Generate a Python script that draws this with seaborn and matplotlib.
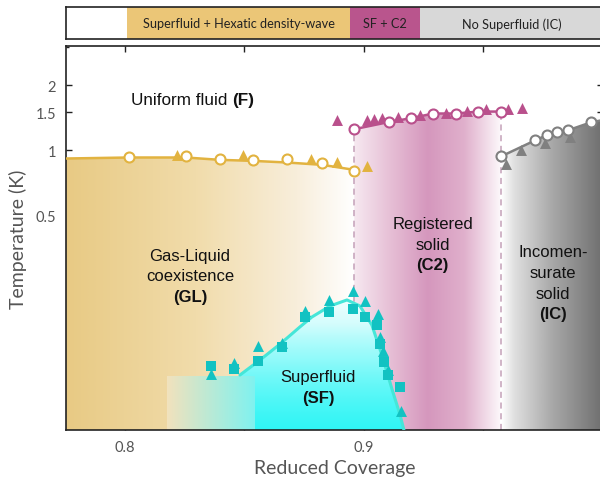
import numpy as np
import matplotlib
matplotlib.use("Agg")
import matplotlib.pyplot as plt
import seaborn as sns
from matplotlib.patches import Polygon
from matplotlib.colors import LinearSegmentedColormap
from matplotlib.ticker import FixedLocator, FixedFormatter, NullFormatter

# --- values ---
# gas-liquid boundary (yellow)
gl_circ_x = [0.8018, 0.8255, 0.8397, 0.8537, 0.8677, 0.8826, 0.8958]
gl_circ_T = [0.925, 0.935, 0.908, 0.902, 0.908, 0.868, 0.802]
gl_tri_x = [0.8216, 0.8495, 0.8777, 0.8888, 0.9014]
gl_tri_T = [0.948, 0.948, 0.915, 0.883, 0.846]
gl_line_x = [0.7752, 0.8018, 0.8255, 0.8397, 0.8537, 0.8677, 0.8826, 0.8958]
gl_line_T = [0.915, 0.925, 0.925, 0.902, 0.892, 0.877, 0.855, 0.811]

# registered solid C2 melting (purple)
c2_circ_x = [0.8959, 0.9106, 0.9195, 0.9290, 0.9385, 0.9478, 0.9573]
c2_circ_T = [1.251, 1.352, 1.406, 1.479, 1.479, 1.51, 1.51]
c2_tri_x = [0.8887, 0.9013, 0.9042, 0.9075, 0.9142, 0.9234, 0.9343, 0.9431, 0.9510, 0.9603, 0.9661]
c2_tri_T = [1.387, 1.377, 1.392, 1.406, 1.421, 1.452, 1.483, 1.515, 1.548, 1.548, 1.565]

# incommensurate solid melting (gray)
ic_circ_x = [0.9573, 0.9715, 0.9764, 0.9808, 0.9855, 0.9948]
ic_circ_T = [0.935, 1.109, 1.173, 1.211, 1.238, 1.344]
ic_tri_x = [0.9594, 0.9656, 0.9757, 0.9862]
ic_tri_T = [0.866, 1.0, 1.077, 1.149]
ic_line_x = [0.9573, 0.9715, 0.9764, 0.9808, 0.9855, 0.9948, 1.0]
ic_line_T = [0.935, 1.109, 1.173, 1.211, 1.238, 1.344, 1.38]

# superfluid dome (cyan)
sf_sq_x = [0.8359, 0.8457, 0.8556, 0.8656, 0.8755, 0.8855, 0.8954, 0.9004, 0.9053, 0.9067, 0.9084, 0.9102, 0.9152]
sf_sq_T = [0.1003, 0.0969, 0.1055, 0.122, 0.168, 0.1784, 0.1828, 0.1686, 0.1548, 0.1264, 0.1047, 0.0913, 0.0797]
sf_tri_x = [0.8359, 0.8457, 0.8556, 0.8656, 0.8755, 0.8855, 0.8954, 0.9004, 0.9058, 0.9067, 0.9081, 0.9102, 0.9154]
sf_tri_T = [0.0921, 0.1027, 0.1244, 0.1277, 0.1794, 0.2023, 0.2233, 0.199, 0.1747, 0.1367, 0.1177, 0.0958, 0.0621]
sf_line_x = [0.8481, 0.8565, 0.8649, 0.8732, 0.8782, 0.8858, 0.8929, 0.8983, 0.9033, 0.9075, 0.9117, 0.9151, 0.9167]
sf_line_T = [0.0908, 0.1066, 0.1264, 0.1517, 0.1686, 0.1897, 0.2023, 0.1897, 0.1548, 0.1124, 0.0782, 0.0593, 0.0505]
sf_rect_x = [0.8175, 0.8544]
sf_rect_T = 0.0908

# top bar
bar_edges = [0.7752, 0.801, 0.8941, 0.9234, 1.0]
bar_labels = ["", "Superfluid + Hexatic density-wave", "SF + C2", "No Superfluid (IC)"]
bar_colors = ["#ffffff", "#ebc677", "#b9558d", "#d8d8d8"]

XMIN, XMAX = 0.7752, 1.0
YMIN, YMAX = 0.0505, 3.03

YEL = "#e2b340"
PUR = "#b9508c"
GRY = "#808080"
CYM = "#12c2c2"
CYL = "#45e6d8"

sns.set_theme(style="ticks")
plt.rcParams['font.family'] = ['Lato', 'DejaVu Sans']

fig = plt.figure(figsize=(6, 4.81), dpi=100)
ax = fig.add_axes([65.7/600, 1-431/481, (603-65.7)/600, (431-47.3)/481])
bar = fig.add_axes([65.7/600, 1-40.2/481, (603-65.7)/600, (40.2-8.4)/481])

ax.set_yscale('log')


def gradient(xs, ys, stops, extent, horizontal=True, z=1):
    cmap = LinearSegmentedColormap.from_list('g', stops)
    g = np.linspace(0, 1, 256)
    arr = g[None, :] if horizontal else g[:, None]
    im = ax.imshow(arr, cmap=cmap, vmin=0, vmax=1, extent=extent, origin='lower',
                   aspect='auto', interpolation='bilinear', zorder=z)
    patch = Polygon(np.column_stack([xs, ys]), closed=True, transform=ax.transData)
    im.set_clip_path(patch)


# background regions
gradient(gl_line_x + [gl_line_x[-1], gl_line_x[0]], gl_line_T + [YMIN, YMIN],
         [(0, '#e8ca84'), (0.45, '#f1dcab'), (0.8, '#f8eedb'), (1, '#ffffff')],
         [gl_line_x[0], gl_line_x[-1], YMIN, 1.0])
gradient(c2_circ_x + [c2_circ_x[-1], c2_circ_x[0]], c2_circ_T + [YMIN, YMIN],
         [(0, '#f6e8f0'), (0.25, '#e6bed5'), (0.5, '#d597bd'), (0.75, '#e0b0cc'), (1, '#fdf8fb')],
         [c2_circ_x[0], c2_circ_x[-1], YMIN, 1.6])
gradient(ic_line_x + [ic_line_x[-1], ic_line_x[0]], ic_line_T + [YMIN, YMIN],
         [(0, '#ffffff'), (0.12, '#e0e0e0'), (0.5, '#a8a8a8'), (1, '#6e6e6e')],
         [ic_line_x[0], ic_line_x[-1], YMIN, 1.4])

# phase boundaries (dashed)
for xd, td in [(c2_circ_x[0], c2_circ_T[0]), (c2_circ_x[-1], c2_circ_T[-1])]:
    ax.plot([xd, xd], [YMIN, td], ls=(0, (4, 3)), color='#c4a0b8', lw=1.1, zorder=1.1)

# superfluid dome sits over the dashed line
gradient(sf_line_x + [sf_line_x[0]], sf_line_T + [YMIN],
         [(0, '#30f5f5'), (0.35, '#8cfafa'), (0.7, '#d5fdfd'), (1, '#f0ffff')],
         [sf_line_x[0], sf_line_x[-1], YMIN, max(sf_line_T)], horizontal=False, z=1.2)
rx = [sf_rect_x[0], sf_rect_x[1], sf_rect_x[1], sf_rect_x[0]]
ry = [YMIN, YMIN, sf_rect_T, sf_rect_T]
gradient(rx, ry, [(0, '#f1e2bd'), (1, '#7ff2f0')],
         [sf_rect_x[0], sf_rect_x[1], YMIN, sf_rect_T], z=1.4)

# lines
sns.lineplot(x=gl_line_x, y=gl_line_T, color=YEL, lw=1.8, sort=False, estimator=None, ax=ax, zorder=3)
sns.lineplot(x=c2_circ_x, y=c2_circ_T, color=PUR, lw=1.8, sort=False, estimator=None, ax=ax, zorder=3)
sns.lineplot(x=ic_line_x, y=ic_line_T, color=GRY, lw=1.8, sort=False, estimator=None, ax=ax, zorder=3)
sns.lineplot(x=sf_line_x, y=sf_line_T, color=CYL, lw=2.2, sort=False, estimator=None, ax=ax, zorder=3)

# markers
for tx, tt, col in [(gl_tri_x, gl_tri_T, YEL), (c2_tri_x, c2_tri_T, PUR), (ic_tri_x, ic_tri_T, GRY)]:
    sns.scatterplot(x=tx, y=tt, marker='^', s=62, color=col, linewidth=0, ax=ax, zorder=4)
for cx, ct, col in [(gl_circ_x, gl_circ_T, YEL), (c2_circ_x, c2_circ_T, PUR), (ic_circ_x, ic_circ_T, GRY)]:
    sns.scatterplot(x=cx, y=ct, marker='o', s=52, color='white', edgecolor=col, linewidth=1.5, ax=ax, zorder=5)
sns.scatterplot(x=sf_sq_x, y=sf_sq_T, marker='s', s=42, color=CYM, linewidth=0, ax=ax, zorder=4)
sns.scatterplot(x=sf_tri_x, y=sf_tri_T, marker='^', s=62, color=CYM, linewidth=0, ax=ax, zorder=4)

ax.set_xlim(XMIN, XMAX)
ax.set_ylim(YMIN, YMAX)

# region labels
LF = 'Liberation Sans'


def label(x, T, lines, size=12, lh=14.9):
    n = len(lines)
    for i, s in enumerate(lines):
        off = ((n - 1) / 2 - i) * lh
        ax.annotate(s, (x, T), xytext=(0, off), textcoords='offset points', ha='center',
                    va='center', fontsize=size, family=LF, color='#111111',
                    fontweight='bold' if i == n - 1 else 'normal', zorder=6)


label(0.8272, 0.262, ["Gas-Liquid", "coexistence", "(GL)"])
label(0.9287, 0.367, ["Registered", "solid", "(C2)"])
label(0.979, 0.243, ["Incomen-", "surate", "solid", "(IC)"])
label(0.8808, 0.0797, ["Superfluid", "(SF)"])
t = ax.text(0.8025, 1.72, "Uniform fluid ", fontsize=12.3, family=LF, va='center', color='#111111')
ax.annotate("(F)", xy=(1, 0), xycoords=t, va='bottom', ha='left', fontsize=12.3,
            family=LF, fontweight='bold', color='#111111')

# axes styling
ax.yaxis.set_major_locator(FixedLocator([0.5, 1, 1.5, 2]))
ax.yaxis.set_major_formatter(FixedFormatter(['0.5', '1', '1.5', '2']))
ax.yaxis.set_minor_locator(FixedLocator([0.06, 0.07, 0.08, 0.09, 0.1, 0.2, 0.3, 0.4, 0.6, 0.7, 0.8, 0.9, 3]))
ax.yaxis.set_minor_formatter(NullFormatter())
ax.xaxis.set_major_locator(FixedLocator([0.8, 0.9, 1.0]))
ax.xaxis.set_major_formatter(FixedFormatter(['0.8', '0.9', '1']))
ax.xaxis.set_minor_locator(FixedLocator([0.85, 0.95]))
ax.tick_params(which='both', direction='in', top=True, right=True, color='#222222',
               labelcolor='#555555', labelsize=10.5, width=1.0)
ax.tick_params(which='major', length=4.5, pad=7)
ax.tick_params(which='minor', length=2.5)
ax.tick_params(axis='x', which='minor', length=4.5)
for sp in ax.spines.values():
    sp.set_linewidth(1.2)
    sp.set_color('#222222')
ax.set_xlabel("Reduced Coverage", fontsize=14, color='#555555', labelpad=4)
ax.set_ylabel("Temperature (K)", fontsize=14, color='#555555', labelpad=6)

# top bar
bar.barh([0.5] * 4, width=np.diff(bar_edges), left=bar_edges[:-1], height=1,
         color=bar_colors, linewidth=0)
for i, lab in enumerate(bar_labels):
    bar.text((bar_edges[i] + bar_edges[i + 1]) / 2, 0.5, lab, ha='center', va='center',
             fontsize=9.2, color='#222222')
bar.set_xlim(XMIN, XMAX)
bar.set_ylim(0, 1)
bar.set_xticks([])
bar.set_yticks([])
for sp in bar.spines.values():
    sp.set_linewidth(1.2)
    sp.set_color('#222222')

fig.savefig("out.png", dpi=100)
